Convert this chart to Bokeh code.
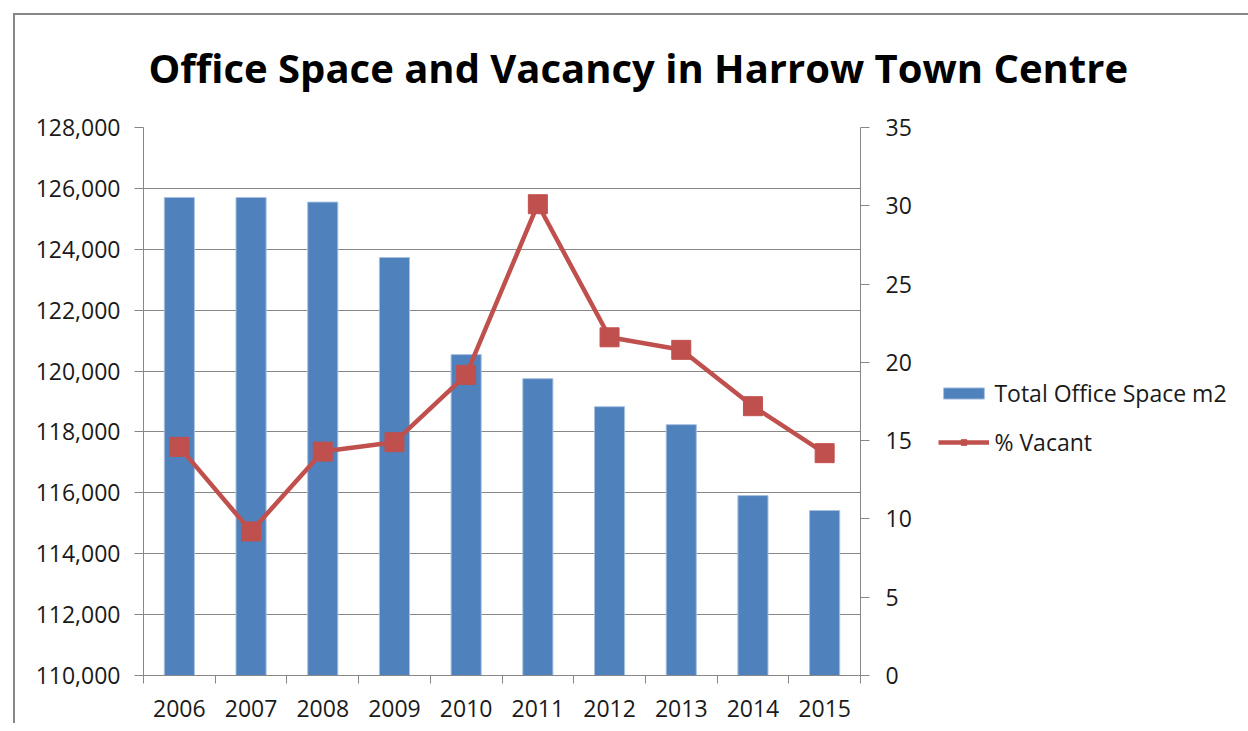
from bokeh.plotting import figure
from bokeh.models import (Range1d, LinearAxis, FixedTicker, NumeralTickFormatter,
                          Legend, LegendItem, ColumnDataSource)
from bokeh.embed import file_html
from bokeh.resources import INLINE

years = ["2006", "2007", "2008", "2009", "2010", "2011", "2012", "2013", "2014", "2015"]
office_space = [125700, 125700, 125550, 123730, 120540, 119750, 118830, 118240, 115910, 115420]
pct_vacant = [14.6, 9.2, 14.3, 14.9, 19.2, 30.1, 21.6, 20.8, 17.2, 14.2]
left_ticks = list(range(110000, 128001, 2000))
right_ticks = list(range(0, 36, 5))

xs = list(range(1, len(years) + 1))
src = ColumnDataSource(dict(x=xs, year=years, space=office_space, pct=pct_vacant,
                            base=[left_ticks[0]] * len(years)))

GRAY = "#878787"
FONT = "Open Sans"

p = figure(width=1240, height=723, frame_width=717, frame_height=548,
           x_range=Range1d(0.5, len(years) + 0.5),
           y_range=Range1d(left_ticks[0], left_ticks[-1]),
           output_backend="svg", toolbar_location=None,
           min_border_left=143, min_border_right=0,
           min_border_top=127, min_border_bottom=48)
p.outline_line_color = None
p.background_fill_color = "white"
p.border_fill_alpha = 0
# outer chart-area frame (only top/left edges visible in the reference)
p.styles = {"box-shadow": "inset 13px 13px 0 0 white, inset 15px 15px 0 0 " + GRAY,
            "background-color": "white"}

p.title.text = "Office Space and Vacancy in Harrow Town Centre"
p.title.align = "left"
p.title.offset = 5
p.title.text_font = FONT
p.title.text_font_style = "bold"
p.title.text_font_size = "40px"
p.title.text_color = "black"
p.title.standoff = 66

p.extra_y_ranges = {"pct": Range1d(right_ticks[0], right_ticks[-1])}

bars = p.vbar(x="x", top="space", bottom="base", width=0.42, source=src,
              fill_color="#4F81BD", line_color="#a9c1df", line_width=1)
line = p.line(x="x", y="pct", source=src, y_range_name="pct",
              line_color="#C0504D", line_width=4.5)
marks = p.scatter(x="x", y="pct", source=src, y_range_name="pct", marker="square",
                  size=19, fill_color="#C0504D", line_color="#C0504D")

# axes
xa = p.xaxis[0]
xa.ticker = FixedTicker(ticks=xs, minor_ticks=[i + 0.5 for i in range(0, len(years) + 1)])
xa.major_label_overrides = {i + 1: y for i, y in enumerate(years)}
xa.major_tick_line_color = None
xa.major_tick_out = 0
xa.major_tick_in = 0
xa.minor_tick_line_color = GRAY
xa.minor_tick_out = 8
xa.minor_tick_in = 0
xa.axis_line_color = GRAY
xa.major_label_standoff = 16
xa.major_label_text_font = FONT
xa.major_label_text_font_size = "23px"
xa.major_label_text_color = "#1a1a1a"

ya = p.yaxis[0]
ya.ticker = FixedTicker(ticks=left_ticks)
ya.formatter = NumeralTickFormatter(format="0,0")
ya.major_tick_line_color = GRAY
ya.major_tick_out = 9
ya.major_tick_in = 0
ya.minor_tick_line_color = None
ya.axis_line_color = GRAY
ya.major_label_standoff = 14
ya.major_label_text_font = FONT
ya.major_label_text_font_size = "23px"
ya.major_label_text_color = "#1a1a1a"

ra = LinearAxis(y_range_name="pct", ticker=FixedTicker(ticks=right_ticks))
ra.major_tick_line_color = GRAY
ra.major_tick_out = 9
ra.major_tick_in = 0
ra.minor_tick_line_color = None
ra.axis_line_color = GRAY
ra.major_label_standoff = 16
ra.major_label_text_font = FONT
ra.major_label_text_font_size = "23px"
ra.major_label_text_color = "#1a1a1a"
p.add_layout(ra, "right")

p.xgrid.grid_line_color = None
p.ygrid.grid_line_color = GRAY
p.ygrid.grid_line_width = 1
p.ygrid.ticker = FixedTicker(ticks=left_ticks)

legend = Legend(items=[LegendItem(label="Total Office Space m2", renderers=[bars]),
                       LegendItem(label="% Vacant", renderers=[line, marks])],
                location=(-200, 217))
legend.border_line_color = None
legend.background_fill_alpha = 0
legend.padding = 0
legend.margin = 0
legend.spacing = 17
legend.glyph_width = 51
legend.glyph_height = 14
legend.label_height = 24
legend.label_standoff = 5
legend.label_text_font = FONT
legend.label_text_font_size = "23px"
legend.label_text_color = "#1a1a1a"
p.add_layout(legend, "right")

open("out.html", "w").write(file_html(p, INLINE))
